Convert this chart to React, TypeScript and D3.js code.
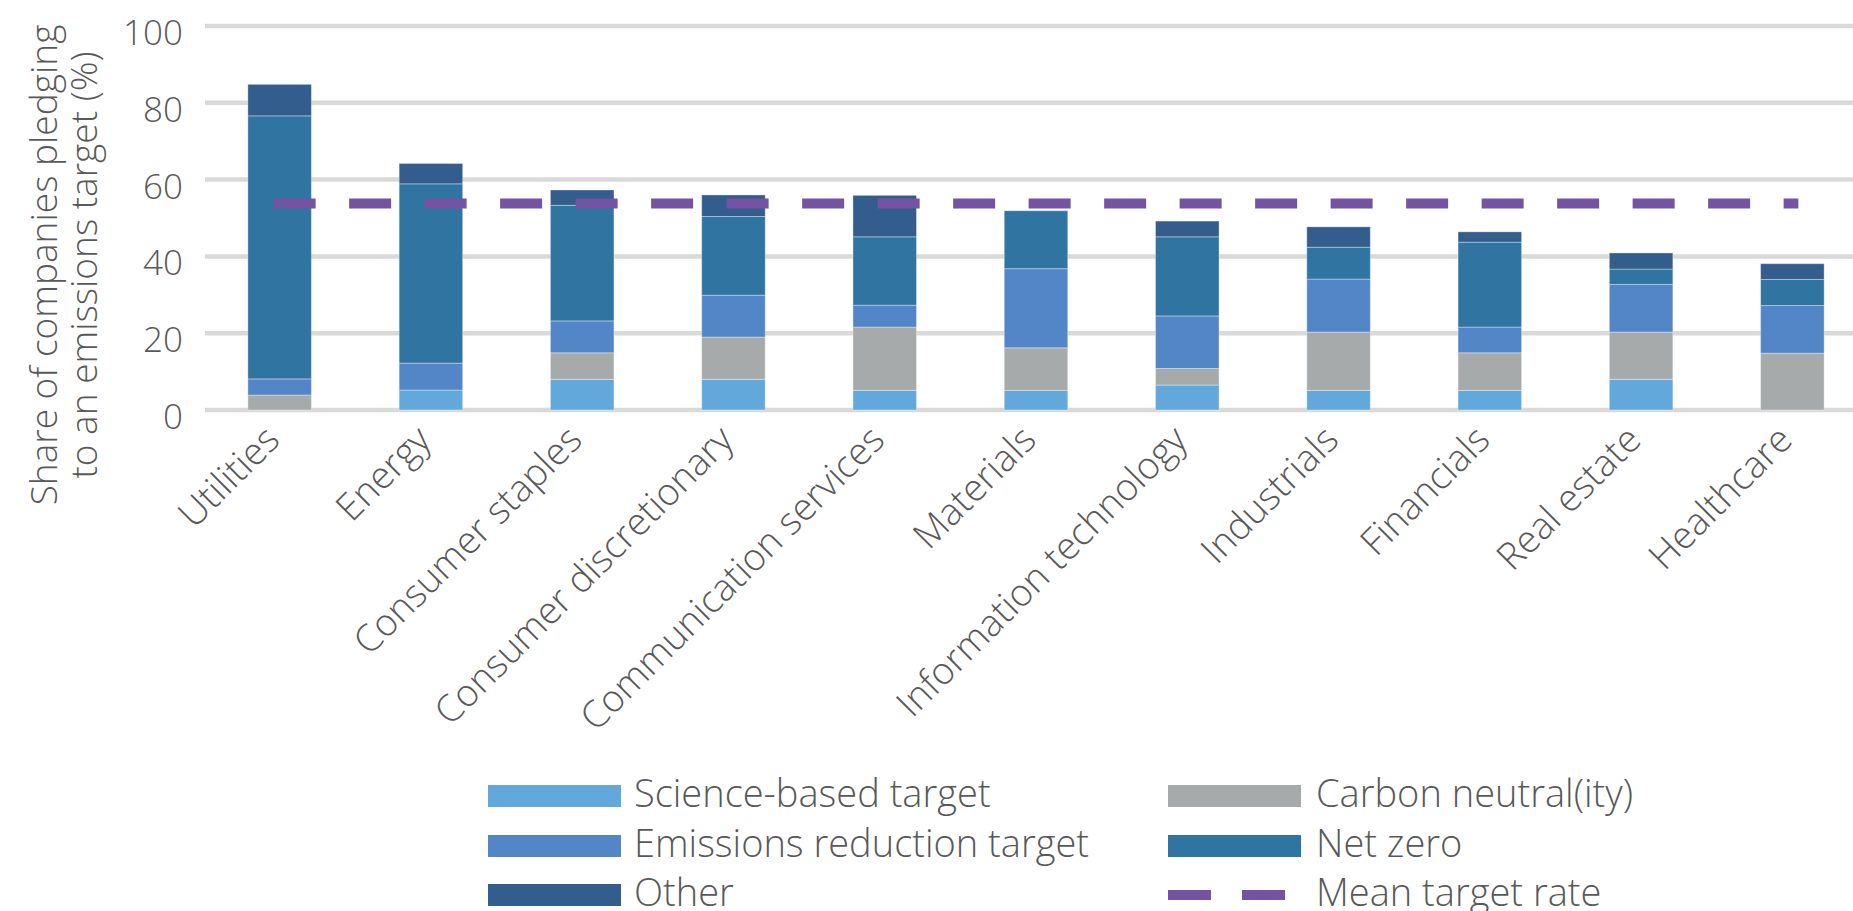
import React from "react";
import * as d3 from "d3";

const categories = [
  "Utilities",
  "Energy",
  "Consumer staples",
  "Consumer discretionary",
  "Communication services",
  "Materials",
  "Information technology",
  "Industrials",
  "Financials",
  "Real estate",
  "Healthcare",
];
const scienceBased = [0, 5.2, 8.0, 8.0, 5.1, 5.1, 6.5, 5.1, 5.1, 8.0, 0];
const carbonNeutral = [3.9, 0, 6.9, 11.0, 16.5, 11.1, 4.3, 15.2, 9.8, 12.3, 14.8];
const emissionsReduction = [4.2, 7.0, 8.3, 10.9, 5.7, 20.6, 13.7, 13.8, 6.7, 12.4, 12.4];
const netZero = [68.5, 46.7, 30.1, 20.5, 17.8, 15.1, 20.6, 8.3, 22.1, 4.0, 6.8];
const other = [8.2, 5.3, 4.0, 5.6, 10.8, 0, 4.1, 5.3, 2.7, 4.2, 4.1];
const meanTargetRate = 53.8;
const yTicks = [0, 20, 40, 60, 80, 100];

const seriesKeys = ["sbt", "cn", "ert", "nz", "other"];
const seriesNames: Record<string, string> = {
  sbt: "Science-based target",
  cn: "Carbon neutral(ity)",
  ert: "Emissions reduction target",
  nz: "Net zero",
  other: "Other",
};
const colors: Record<string, string> = {
  sbt: "#62A8DA",
  cn: "#A7AAAB",
  ert: "#5386C6",
  nz: "#3075A2",
  other: "#325D8C",
};
const meanColor = "#7453A2";
const textColor = "#595959";
const FONT = "'Open Sans', Lato, sans-serif";

const W = 1853;
const H = 911;

export default function App() {
  const table = categories.map((c, i) => ({
    cat: c,
    sbt: scienceBased[i],
    cn: carbonNeutral[i],
    ert: emissionsReduction[i],
    nz: netZero[i],
    other: other[i],
  }));
  const stacked = d3.stack<any>().keys(seriesKeys)(table);

  const x = d3
    .scaleBand<string>()
    .domain(categories)
    .range([204, 1868])
    .paddingInner(0.58)
    .paddingOuter(0.29);
  const y = d3.scaleLinear().domain([0, 100]).range([410, 26]);
  const bw = x.bandwidth();

  const first = x(categories[0])! + bw / 2 - 6;
  const last = x(categories[categories.length - 1])! + bw / 2 + 6;

  const legendLeft = [
    { key: "sbt", row: 0 },
    { key: "ert", row: 1 },
    { key: "other", row: 2 },
  ];
  const legendRight = [
    { key: "cn", row: 0 },
    { key: "nz", row: 1 },
  ];
  const rowY = [796, 846, 895];

  return (
    <svg
      width={W}
      height={H}
      style={{ position: "absolute", left: 0, top: 0, background: "#fff" }}
      fontFamily={FONT}
    >
      {yTicks.map((t) => (
        <line
          key={t}
          x1={205}
          x2={1868}
          y1={y(t)}
          y2={y(t)}
          stroke="#D9D9D9"
          strokeWidth={4.5}
        />
      ))}
      {yTicks.map((t) => (
        <text
          key={"l" + t}
          x={183}
          y={y(t) + 19}
          textAnchor="end"
          fontSize={35}
          fontWeight={300}
          fill={textColor}
        >
          {t}
        </text>
      ))}
      <g transform="translate(57,265) rotate(-90)">
        <text textAnchor="middle" fontSize={37} fontWeight={300} fill={textColor}>
          <tspan x={0} y={0}>Share of companies pledging</tspan>
          <tspan x={0} y={40}>to an emissions target (%)</tspan>
        </text>
      </g>
      {stacked.map((s) => (
        <g key={s.key} fill={colors[s.key]}>
          {s.map((d, i) =>
            d[1] - d[0] > 0 ? (
              <rect
                key={i}
                x={x(categories[i])}
                width={bw}
                y={y(d[1])}
                height={y(d[0]) - y(d[1])}
                stroke="rgba(255,255,255,0.35)"
                strokeWidth={1}
              />
            ) : null
          )}
        </g>
      ))}
      <line
        x1={first}
        x2={last}
        y1={y(meanTargetRate)}
        y2={y(meanTargetRate)}
        stroke={meanColor}
        strokeWidth={10}
        strokeDasharray="42 33.5"
      />
      {categories.map((c) => (
        <text
          key={c}
          transform={`translate(${x(c)! + bw / 2 + 2},442) rotate(-45)`}
          textAnchor="end"
          fontSize={37.5}
          fontWeight={300}
          fill={textColor}
        >
          {c}
        </text>
      ))}
      {legendLeft.map((l) => (
        <g key={l.key}>
          <rect x={488} y={rowY[l.row] - 11} width={133} height={22} fill={colors[l.key]} />
          <text x={634} y={rowY[l.row] + 11} fontSize={38} fontWeight={300} fill={textColor}>
            {seriesNames[l.key]}
          </text>
        </g>
      ))}
      {legendRight.map((l) => (
        <g key={l.key}>
          <rect x={1168} y={rowY[l.row] - 11} width={133} height={22} fill={colors[l.key]} />
          <text x={1316} y={rowY[l.row] + 11} fontSize={38} fontWeight={300} fill={textColor}>
            {seriesNames[l.key]}
          </text>
        </g>
      ))}
      <line
        x1={1168}
        x2={1301}
        y1={rowY[2]}
        y2={rowY[2]}
        stroke={meanColor}
        strokeWidth={10}
        strokeDasharray="43 31"
      />
      <text x={1316} y={rowY[2] + 11} fontSize={38} fontWeight={300} fill={textColor}>
        Mean target rate
      </text>
    </svg>
  );
}
